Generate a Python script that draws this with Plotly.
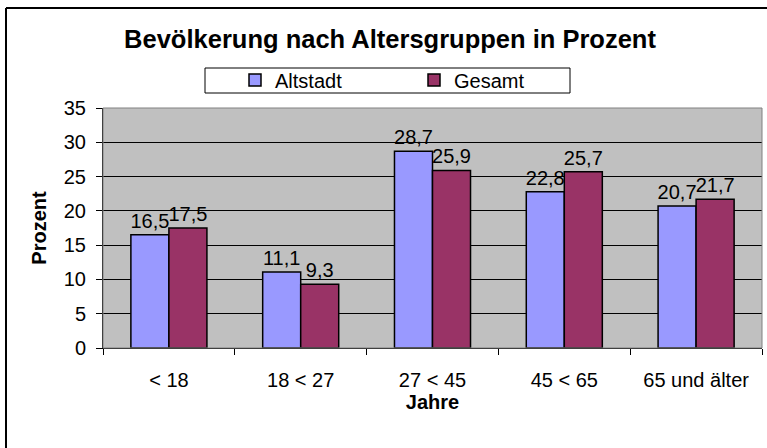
import plotly.graph_objects as go

categories = ["< 18", "18 < 27", "27 < 45", "45 < 65", "65 und älter"]
altstadt = [16.5, 11.1, 28.7, 22.8, 20.7]
gesamt = [17.5, 9.3, 25.9, 25.7, 21.7]
y_ticks = [0, 5, 10, 15, 20, 25, 30, 35]

W, H = 767, 448
L, R, T, B = 103, 5, 108, 100
PW, PH = W - L - R, H - T - B
FONT = "Arial, Liberation Sans, sans-serif"


def px_x(px):
    return (px - L) / PW


def px_y(py):
    return (H - B - py) / PH


def fmt(v):
    return f"{v:.1f}".replace(".", ",")


fig = go.Figure()
fig.add_bar(
    x=categories, y=altstadt, name="Altstadt",
    marker=dict(color="#9999FF", line=dict(color="black", width=1.5)),
    text=[fmt(v) for v in altstadt], textposition="outside", constraintext="none",
    textfont=dict(family=FONT, size=20, color="black"), cliponaxis=False,
)
fig.add_bar(
    x=categories, y=gesamt, name="Gesamt",
    marker=dict(color="#993366", line=dict(color="black", width=1.5)),
    text=[fmt(v) for v in gesamt], textposition="outside", constraintext="none",
    textfont=dict(family=FONT, size=20, color="black"), cliponaxis=False,
)

fig.update_layout(
    width=W, height=H,
    margin=dict(l=L, r=R, t=T, b=B, pad=0),
    paper_bgcolor="white", plot_bgcolor="#C0C0C0",
    font=dict(family=FONT, size=20, color="black"),
    barmode="group", bargap=0.423, bargroupgap=0,
    title=dict(
        text="<b>Bevölkerung nach Altersgruppen in Prozent</b>",
        font=dict(family=FONT, size=25.5, color="black"),
        x=390 / W, xref="container", xanchor="center",
        y=1 - 39 / H, yref="container", yanchor="middle",
    ),
    legend=dict(
        orientation="h", x=px_x(235), xanchor="left",
        y=px_y(80), yanchor="middle",
        bgcolor="rgba(0,0,0,0)", borderwidth=0,
        font=dict(family=FONT, size=20, color="black"),
        entrywidth=134, entrywidthmode="pixels", itemwidth=30,
        traceorder="normal",
    ),
    showlegend=True,
    xaxis=dict(
        showline=True, linecolor="black", linewidth=1,
        ticks="outside", ticklen=6, tickcolor="black", tickson="boundaries",
        tickfont=dict(family=FONT, size=20), ticklabelstandoff=14,
        showgrid=False,
        title=dict(text="<b>Jahre</b>", font=dict(family=FONT, size=20), standoff=4),
    ),
    yaxis=dict(
        range=[0, 35], tickvals=y_ticks, ticktext=[str(v) for v in y_ticks],
        showline=True, linecolor="black", linewidth=1,
        ticks="outside", ticklen=6, tickcolor="black",
        tickfont=dict(family=FONT, size=20), ticklabelstandoff=6,
        showgrid=True, gridcolor="black", gridwidth=1, zeroline=False,
        title=dict(text="<b>Prozent</b>", font=dict(family=FONT, size=20), standoff=11),
    ),
    shapes=[
        # plot-area frame
        dict(type="rect", xref="paper", yref="paper", x0=0, x1=1, y0=0, y1=1,
             line=dict(color="#808080", width=1), layer="above"),
        # legend box
        dict(type="rect", xref="paper", yref="paper",
             x0=px_x(205), x1=px_x(570), y0=px_y(68), y1=px_y(93),
             line=dict(color="black", width=1), fillcolor="white", layer="below"),
        # outer chart border (left and top)
        dict(type="line", xref="paper", yref="paper",
             x0=px_x(6), x1=px_x(6), y0=px_y(8), y1=px_y(460),
             line=dict(color="black", width=2)),
        dict(type="line", xref="paper", yref="paper",
             x0=px_x(6), x1=px_x(780), y0=px_y(8), y1=px_y(8),
             line=dict(color="black", width=2)),
    ],
)

fig.write_html(
    "out.html",
    config={"displayModeBar": False, "staticPlot": True},
    post_script="document.body.style.margin='0';document.body.style.overflow='hidden';",
)
